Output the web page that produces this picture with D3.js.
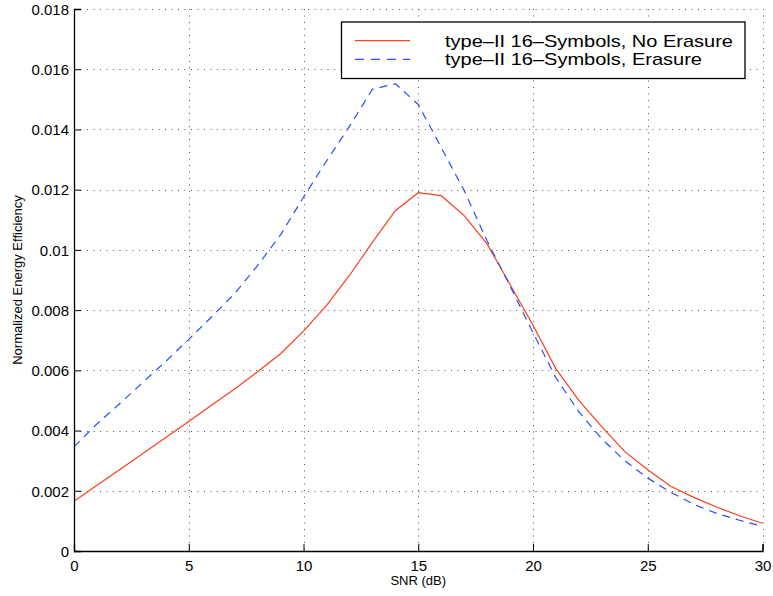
<!DOCTYPE html>
<html>
<head>
<meta charset="utf-8">
<script src="https://cdn.jsdelivr.net/npm/d3@7"></script>
<style>
  body { margin: 0; background: #fff; }
  svg text { font-family: "Liberation Sans", Arial, Helvetica, sans-serif; fill: #000; }
</style>
</head>
<body>
<div id="chart"></div>
<script>
// SNR grid (dB)
const snr = [0,1,2,3,4,5,6,7,8,9,10,11,12,13,14,15,16,17,18,19,20,21,22,23,24,25,26,27,28,29,30];
// normalized energy efficiency (x 1e-3)
const noErasure = [1.65,2.18,2.71,3.24,3.77,4.30,4.85,5.38,5.95,6.55,7.30,8.15,9.15,10.25,11.30,11.90,11.80,11.14,10.20,8.85,7.50,6.05,5.00,4.12,3.30,2.70,2.15,1.78,1.46,1.17,0.92];
const erasure   = [3.46,4.22,4.90,5.60,6.30,7.03,7.78,8.55,9.48,10.50,11.75,12.95,14.10,15.33,15.52,14.83,13.40,11.97,10.30,8.80,7.25,5.75,4.62,3.72,3.00,2.42,1.95,1.55,1.25,1.02,0.82];
const xTicks = [0,5,10,15,20,25,30];
const yTicks = [0,0.002,0.004,0.006,0.008,0.010,0.012,0.014,0.016,0.018];
const seriesNames = ["type\u2013II 16\u2013Symbols, No Erasure", "type\u2013II 16\u2013Symbols, Erasure"];

const W = 773, H = 596;
const margin = { top: 9, right: 10.5, bottom: 45, left: 74 };

const svg = d3.select("#chart").append("svg").attr("width", W).attr("height", H);

const x = d3.scaleLinear().domain([0, 30]).range([margin.left, W - margin.right]);
const y = d3.scaleLinear().domain([0, 0.018]).range([H - margin.bottom, margin.top]);

// dotted grid
const grid = svg.append("g").attr("stroke", "#555").attr("stroke-width", 1).attr("stroke-dasharray", "1,5.5");
grid.selectAll("line.v").data(xTicks).join("line").attr("class", "v")
  .attr("x1", d => Math.round(x(d)) + 0.5).attr("x2", d => Math.round(x(d)) + 0.5)
  .attr("y1", y(0.018)).attr("y2", y(0));
grid.selectAll("line.h").data(yTicks).join("line").attr("class", "h")
  .attr("x1", x(0)).attr("x2", x(30))
  .attr("y1", d => Math.round(y(d)) + 0.5).attr("y2", d => Math.round(y(d)) + 0.5);

// curves
const line = d3.line().x((d, i) => x(snr[i])).y(d => y(d / 1000));
svg.append("path").datum(noErasure).attr("d", line)
  .attr("fill", "none").attr("stroke", "#ff3d1f").attr("stroke-width", 1.2);
svg.append("path").datum(erasure).attr("d", line)
  .attr("fill", "none").attr("stroke", "#2a4dff").attr("stroke-width", 1.2)
  .attr("stroke-dasharray", "8,6");

// axes (left + bottom, inward ticks)
const xAxis = d3.axisBottom(x).tickValues(xTicks).tickSize(-7).tickPadding(9).tickFormat(d3.format("d"));
const yAxis = d3.axisLeft(y).tickValues(yTicks).tickSize(-7).tickPadding(12).tickFormat(d => String(+d.toFixed(3)));

const gx = svg.append("g").attr("transform", `translate(0,${y(0)})`).call(xAxis);
const gy = svg.append("g").attr("transform", `translate(${x(0)},0)`).call(yAxis);
[gx, gy].forEach(g => {
  g.select(".domain").attr("stroke", "#000").attr("stroke-width", 1.3);
  g.selectAll(".tick line").attr("stroke", "#000").attr("stroke-width", 1);
  g.selectAll(".tick text").attr("font-size", 15).attr("font-family", "Liberation Sans, Arial, sans-serif").attr("fill", "#000");
});
gx.selectAll(".tick text").attr("y", 9).attr("dy", "0.71em");
gy.selectAll(".tick text").attr("x", -5).attr("dy", "0.35em");

// axis titles
svg.append("text").attr("x", x(15)).attr("y", 585).attr("text-anchor", "middle")
  .attr("font-size", 13).text("SNR (dB)");
svg.append("text").attr("transform", `translate(22,${y(0.009)}) rotate(-90)`).attr("text-anchor", "middle")
  .attr("font-size", 13).text("Normalized Energy Efficiency");

// legend
const lg = svg.append("g");
lg.append("rect").attr("x", 341.5).attr("y", 22).attr("width", 403.5).attr("height", 56.5)
  .attr("fill", "#fff").attr("stroke", "#000").attr("stroke-width", 1.3);
const legendRows = [
  { name: seriesNames[0], color: "#ff3d1f", dash: null, y: 40.7, len: 288 },
  { name: seriesNames[1], color: "#2a4dff", dash: "9,7", y: 59.3, len: 257 }
];
legendRows.forEach(r => {
  lg.append("line").attr("x1", 355).attr("x2", 410).attr("y1", r.y).attr("y2", r.y)
    .attr("stroke", r.color).attr("stroke-width", 1.2).attr("stroke-dasharray", r.dash);
  lg.append("text").attr("x", 445).attr("y", r.y + 6).attr("font-size", 17)
    .attr("textLength", r.len).attr("lengthAdjust", "spacingAndGlyphs").text(r.name);
});
</script>
</body>
</html>
